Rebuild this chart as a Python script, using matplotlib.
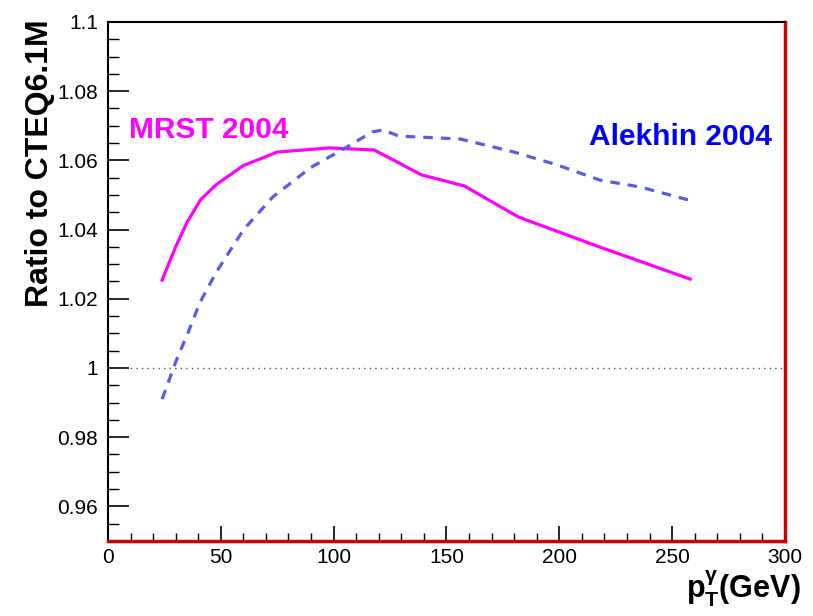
import matplotlib
matplotlib.use('Agg')
import matplotlib.pyplot as plt
from matplotlib.ticker import MultipleLocator

plt.rcParams['font.family'] = ['Liberation Sans', 'DejaVu Sans']
plt.rcParams['mathtext.fontset'] = 'custom'
plt.rcParams['mathtext.rm'] = 'Liberation Sans:bold'
plt.rcParams['mathtext.it'] = 'Liberation Sans:bold'

# MRST 2004 / CTEQ6.1M
mrst_pt = [24, 30, 35, 41, 48, 60, 75, 98, 118, 139, 158, 182, 219, 258]
mrst_r = [1.0254, 1.0350, 1.0420, 1.0486, 1.0530, 1.0585, 1.0624, 1.0636, 1.0630,
          1.0558, 1.0526, 1.0436, 1.0347, 1.0257]

# Alekhin 2004 / CTEQ6.1M
alek_pt = [24, 30, 35.6, 40.8, 48, 60, 73, 90, 106, 117, 122, 129, 156, 180, 199, 218, 236, 257]
alek_r = [0.991, 1.0017, 1.0104, 1.0190, 1.0277, 1.0399, 1.0494, 1.0580, 1.0639, 1.0682,
          1.0688, 1.0670, 1.0662, 1.0624, 1.0587, 1.0543, 1.0523, 1.0486]

fig = plt.figure(figsize=(8.13, 6.16), dpi=100)
ax = fig.add_axes([0.1328, 0.1218, 0.8327, 0.8425])

ax.axhline(1.0, color='#555555', lw=1.0, ls=(0, (1, 3)))
ax.plot(mrst_pt, mrst_r, color='#ff00ff', lw=2.3)
ax.plot(alek_pt, alek_r, color='#5a5ae6', lw=2.3, ls=(0, (3, 2.5)))

ax.text(9.5, 1.0688, 'MRST 2004', color='#ff00ff', fontsize=21.5, fontweight='bold',
        va='center', ha='left')
ax.text(294, 1.0668, 'Alekhin 2004', color='#0000ff', fontsize=21.5, fontweight='bold',
        va='center', ha='right')

ax.set_xlim(0, 300)
ax.set_ylim(0.95, 1.1)
ax.xaxis.set_major_locator(MultipleLocator(50))
ax.xaxis.set_minor_locator(MultipleLocator(10))
ax.yaxis.set_minor_locator(MultipleLocator(0.005))
ax.set_yticks([0.96, 0.98, 1.0, 1.02, 1.04, 1.06, 1.08, 1.1])
ax.set_yticklabels(['0.96', '0.98', '1', '1.02', '1.04', '1.06', '1.08', '1.1'])

ax.tick_params(axis='x', which='major', direction='in', length=11, width=1.2,
               labelsize=15, pad=5, top=False)
ax.tick_params(axis='x', which='minor', direction='in', length=5.5, width=1.0, top=False)
ax.tick_params(axis='y', which='major', direction='in', length=15, width=1.2,
               labelsize=15, pad=7, right=False)
ax.tick_params(axis='y', which='minor', direction='in', length=8, width=1.0, right=False)

for s in ['top', 'left']:
    ax.spines[s].set_color('black')
    ax.spines[s].set_linewidth(1.5)
for s in ['bottom', 'right']:
    ax.spines[s].set_color('#cc0000')
    ax.spines[s].set_linewidth(2.5)

fig.text(0.049, 0.968, 'Ratio to CTEQ6.1M', fontsize=23, fontweight='bold',
         rotation=90, ha='center', va='top')

fig.text(0.985, 0.012, r'$\mathrm{p}_{\mathrm{T}}^{\gamma}$(GeV)', fontsize=22,
         fontweight='bold', ha='right', va='bottom')

fig.savefig('out.png', dpi=100)
